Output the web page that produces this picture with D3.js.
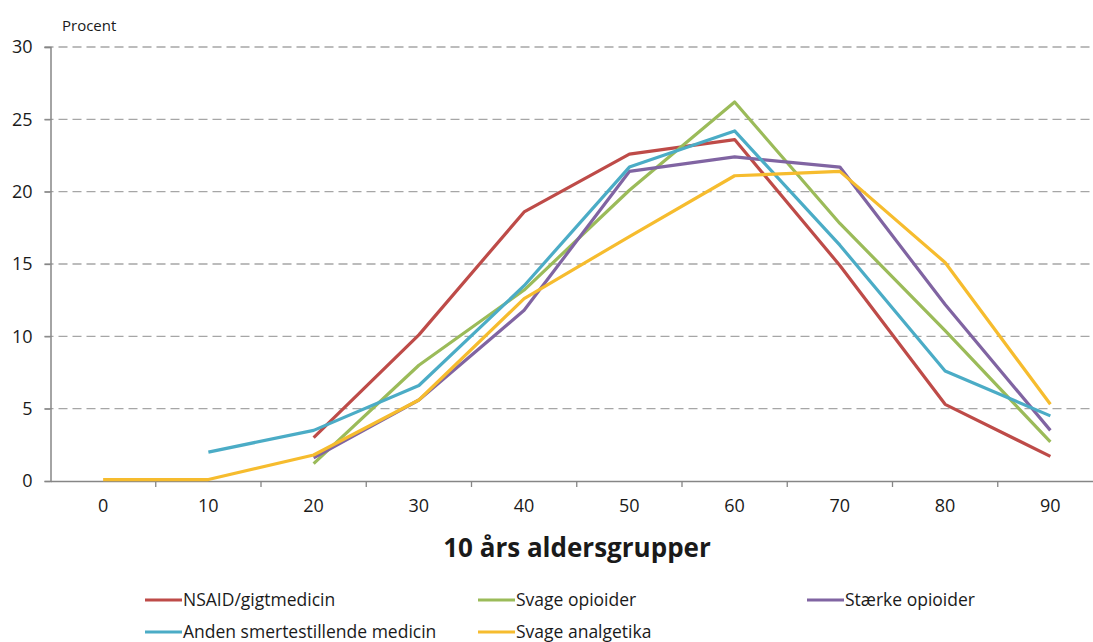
<!DOCTYPE html>
<html>
<head>
<meta charset="utf-8">
<script src="https://cdn.jsdelivr.net/npm/d3@7"></script>
<style>
  body { margin: 0; background: #fff; }
  svg text { font-family: "Open Sans", "Noto Sans", sans-serif; fill: #1a1a1a; }
</style>
</head>
<body>
<div id="chart"></div>
<script>
const ageGroups = ["0", "10", "20", "30", "40", "50", "60", "70", "80", "90"];
const yTicks = [0, 5, 10, 15, 20, 25, 30];

// null = no value for that age group
const nsaid = [null, null, 3.0, 10.1, 18.6, 22.6, 23.6, 14.9, 5.3, 1.7];
const svageOpioider = [null, null, 1.2, 8.0, 13.2, 20.1, 26.2, 17.8, 10.4, 2.7];
const staerkeOpioider = [null, null, 1.6, 5.6, 11.8, 21.4, 22.4, 21.7, 12.2, 3.5];
const andenMedicin = [null, 2.0, 3.5, 6.6, 13.5, 21.7, 24.2, 16.3, 7.6, 4.5];
const svageAnalgetika = [0.1, 0.1, 1.8, 5.6, 12.6, 16.9, 21.1, 21.4, 15.1, 5.3];

const seriesNames = ["NSAID/gigtmedicin", "Svage opioider", "Stærke opioider",
  "Anden smertestillende medicin", "Svage analgetika"];
const seriesColors = ["#BE4B48", "#9BBB59", "#8064A2", "#4BACC6", "#F6BC2E"];
const seriesValues = [nsaid, svageOpioider, staerkeOpioider, andenMedicin, svageAnalgetika];

const width = 1093;
const height = 642;
const margin = { top: 47, right: -10, bottom: 161, left: 50.5 };

const svg = d3.select("#chart").append("svg")
  .attr("width", width)
  .attr("height", height);

const x = d3.scaleBand()
  .domain(ageGroups)
  .range([margin.left, width - margin.right]);

const y = d3.scaleLinear()
  .domain([0, 30])
  .range([height - margin.bottom, margin.top]);

// gridlines
svg.append("g")
  .selectAll("line")
  .data(yTicks.filter(d => d > 0))
  .join("line")
  .attr("x1", margin.left - 6)
  .attr("x2", width)
  .attr("y1", d => y(d))
  .attr("y2", d => y(d))
  .attr("stroke", "#A6A6A6")
  .attr("stroke-width", 1.3)
  .attr("stroke-dasharray", "9,5");

// y axis
const yAxis = svg.append("g")
  .attr("transform", `translate(${margin.left},0)`)
  .call(d3.axisLeft(y).tickValues(yTicks).tickSize(6).tickPadding(12));
yAxis.select(".domain").attr("stroke", "#868686").attr("stroke-width", 1.5);
yAxis.selectAll(".tick line").attr("stroke", "#868686").attr("stroke-width", 1.3);
yAxis.selectAll(".tick text").attr("font-size", 18);

// x axis with ticks at band edges
const xAxis = svg.append("g")
  .attr("transform", `translate(0,${y(0)})`)
  .call(d3.axisBottom(x).tickSize(0).tickPadding(18));
xAxis.select(".domain").attr("stroke", "#868686").attr("stroke-width", 1.5);
xAxis.selectAll(".tick text").attr("font-size", 18);
xAxis.append("g")
  .selectAll("line")
  .data(ageGroups)
  .join("line")
  .attr("x1", d => x(d) + x.bandwidth())
  .attr("x2", d => x(d) + x.bandwidth())
  .attr("y1", 0)
  .attr("y2", 6)
  .attr("stroke", "#868686")
  .attr("stroke-width", 1.3);

// axis titles
svg.append("text")
  .attr("x", 62)
  .attr("y", 31)
  .attr("font-size", 15)
  .text("Procent");

svg.append("text")
  .attr("x", 577)
  .attr("y", 557)
  .attr("text-anchor", "middle")
  .attr("font-size", 26)
  .attr("font-weight", "bold")
  .text("10 års aldersgrupper");

// lines
const line = d3.line()
  .defined(d => d != null)
  .x((d, i) => x(ageGroups[i]) + x.bandwidth() / 2)
  .y(d => y(d));

svg.append("g")
  .selectAll("path")
  .data(seriesValues)
  .join("path")
  .attr("fill", "none")
  .attr("stroke", (d, i) => seriesColors[i])
  .attr("stroke-width", 3.2)
  .attr("stroke-linejoin", "round")
  .attr("d", d => line(d));

// legend
const legendPos = [[145, 600], [478, 600], [807, 600], [145, 632], [478, 632]];
const legend = svg.append("g")
  .selectAll("g")
  .data(seriesNames)
  .join("g")
  .attr("transform", (d, i) => `translate(${legendPos[i][0]},${legendPos[i][1]})`);
legend.append("line")
  .attr("x1", 0).attr("x2", 37)
  .attr("stroke", (d, i) => seriesColors[i])
  .attr("stroke-width", 3.2);
legend.append("text")
  .attr("x", 38)
  .attr("dy", "0.35em")
  .attr("font-size", 17.5)
  .text(d => d);
</script>
</body>
</html>
